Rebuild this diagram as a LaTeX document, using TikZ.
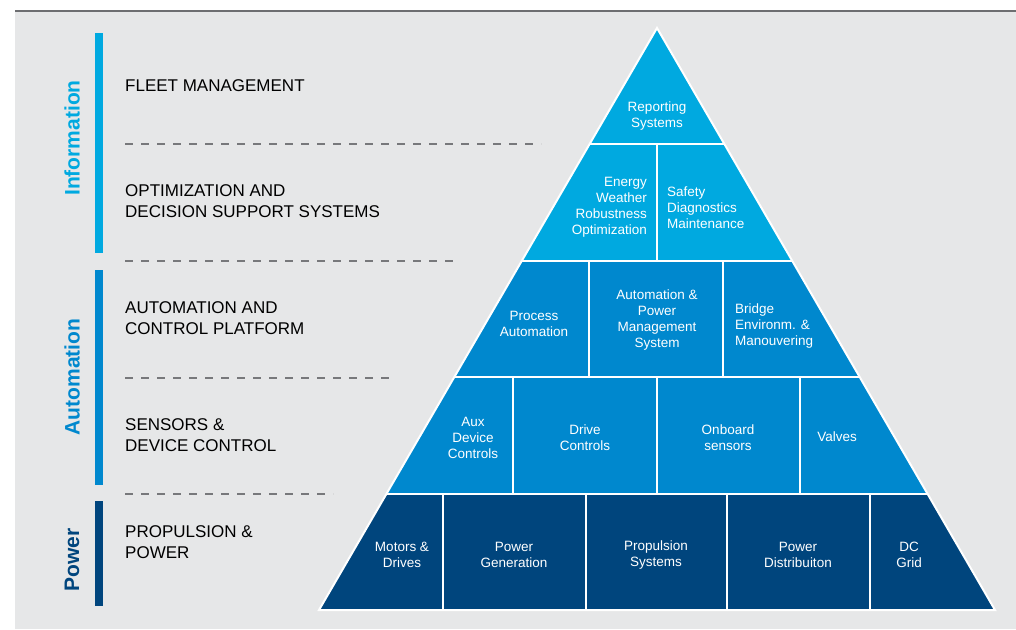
\documentclass[tikz,border=0pt]{standalone}
\usepackage{fontspec}
\setmainfont{Liberation Sans}
\usetikzlibrary{calc}

\definecolor{infoblue}{HTML}{00A9E0}
\definecolor{autoblue}{HTML}{0088CE}
\definecolor{powerblue}{HTML}{00457D}
\definecolor{panelgray}{HTML}{E6E7E8}
\definecolor{rulegray}{HTML}{6D6E71}
\definecolor{dashgray}{HTML}{77787B}

\begin{document}
\begin{tikzpicture}[
    x=1pt, y=-1pt,
    cell/.style={
        font=\fontsize{13.5}{16}\selectfont,
        text=white,
        align=center,
        inner sep=0pt
    },
    layer/.style={
        font=\fontsize{17}{21}\selectfont,
        anchor=west,
        align=left,
        inner sep=0pt
    },
    side/.style={
        font=\fontsize{21}{25}\selectfont\bfseries,
        rotate=90,
        inner sep=0pt
    },
    sep/.style={draw=dashgray, line width=1.5pt, dash pattern=on 8pt off 8pt},
    divider/.style={draw=white, line width=2pt}
]
\useasboundingbox (0,0) rectangle (1016,629);

% Panel background
\fill[panelgray] (15,11) rectangle (1016,629);
\draw[rulegray, line width=2pt] (15,10.5) -- (1016,10.5);

% Side bars
\fill[infoblue] (95,33) rectangle (102.5,253);
\fill[autoblue] (95,270) rectangle (102.5,485);
\fill[powerblue] (95,501) rectangle (102.5,606);
\node[side, text=infoblue] (info) at (72,138) {Information};
\node[side, text=autoblue] (auto) at (72,377) {Automation};
\node[side, text=powerblue] (power) at (72,560) {Power};

% Layer names
\node[layer] (fleet) at (125,86) {FLEET MANAGEMENT};
\node[layer] (optim) at (125,201.5) {OPTIMIZATION AND\\DECISION SUPPORT SYSTEMS};
\node[layer] (platform) at (125,318.5) {AUTOMATION AND\\CONTROL PLATFORM};
\node[layer] (sensors) at (125,435.5) {SENSORS \&\\DEVICE CONTROL};
\node[layer] (propul) at (125,542.5) {PROPULSION \&\\POWER};

% Dashed separators
\draw[sep] (125,144) -- (541,144);
\draw[sep] (125,261) -- (456,261);
\draw[sep] (125,378) -- (389,378);
\draw[sep] (125,494) -- (333,494);

% Pyramid
\coordinate (top) at (657,28);
\coordinate (bl) at (319,610);
\coordinate (br) at (995,610);
\foreach \k in {1,...,4} {
    \coordinate (l\k) at ($(top)!\k/5!(bl)$);
    \coordinate (r\k) at ($(top)!\k/5!(br)$);
}
\fill[infoblue] (top) -- (l2) -- (r2) -- cycle;
\fill[autoblue] (l2) -- (l4) -- (r4) -- (r2) -- cycle;
\fill[powerblue] (l4) -- (bl) -- (br) -- (r4) -- cycle;

% Cell borders
\draw[divider] (top) -- (bl) -- (br) -- cycle;
\foreach \k in {1,...,4}
    \draw[divider] (l\k) -- (r\k);
\draw[divider] (657,144.4) -- (657,260.8);
\foreach \x in {589,723}
    \draw[divider] (\x,260.8) -- (\x,377.2);
\foreach \x in {513,657,800}
    \draw[divider] (\x,377.2) -- (\x,493.6);
\foreach \x in {443,586,727,870}
    \draw[divider] (\x,493.6) -- (\x,610);

% Cell texts
\node[cell] (report) at (657,116) {Reporting\\Systems};
\node[cell, anchor=east, align=right] (energy) at (647,207) {Energy\\Weather\\Robustness\\Optimization};
\node[cell, anchor=west, align=left] (safety) at (667,208) {Safety\\Diagnostics\\Maintenance};

\node[cell] (process) at (534,323.5) {Process\\Automation};
\node[cell] (pms) at (657,320) {Automation \&\\Power\\Management\\System};
\node[cell, anchor=west, align=left] (bridge) at (735,326.5) {Bridge\\Environm. \&\\Manouvering};

\node[cell] (aux) at (473,437.5) {Aux\\Device\\Controls};
\node[cell] (drive) at (585,437.5) {Drive\\Controls};
\node[cell] (onboard) at (728,437.5) {Onboard\\sensors};
\node[cell] (valves) at (837,437) {Valves};

\node[cell] (motors) at (402,554.5) {Motors \&\\Drives};
\node[cell] (gen) at (514,554.5) {Power\\Generation};
\node[cell] (propsys) at (656,555) {Propulsion\\Systems};
\node[cell] (distr) at (798,554.5) {Power\\Distribuiton};
\node[cell] (dc) at (909,554.5) {DC\\Grid};

\end{tikzpicture}
\end{document}
